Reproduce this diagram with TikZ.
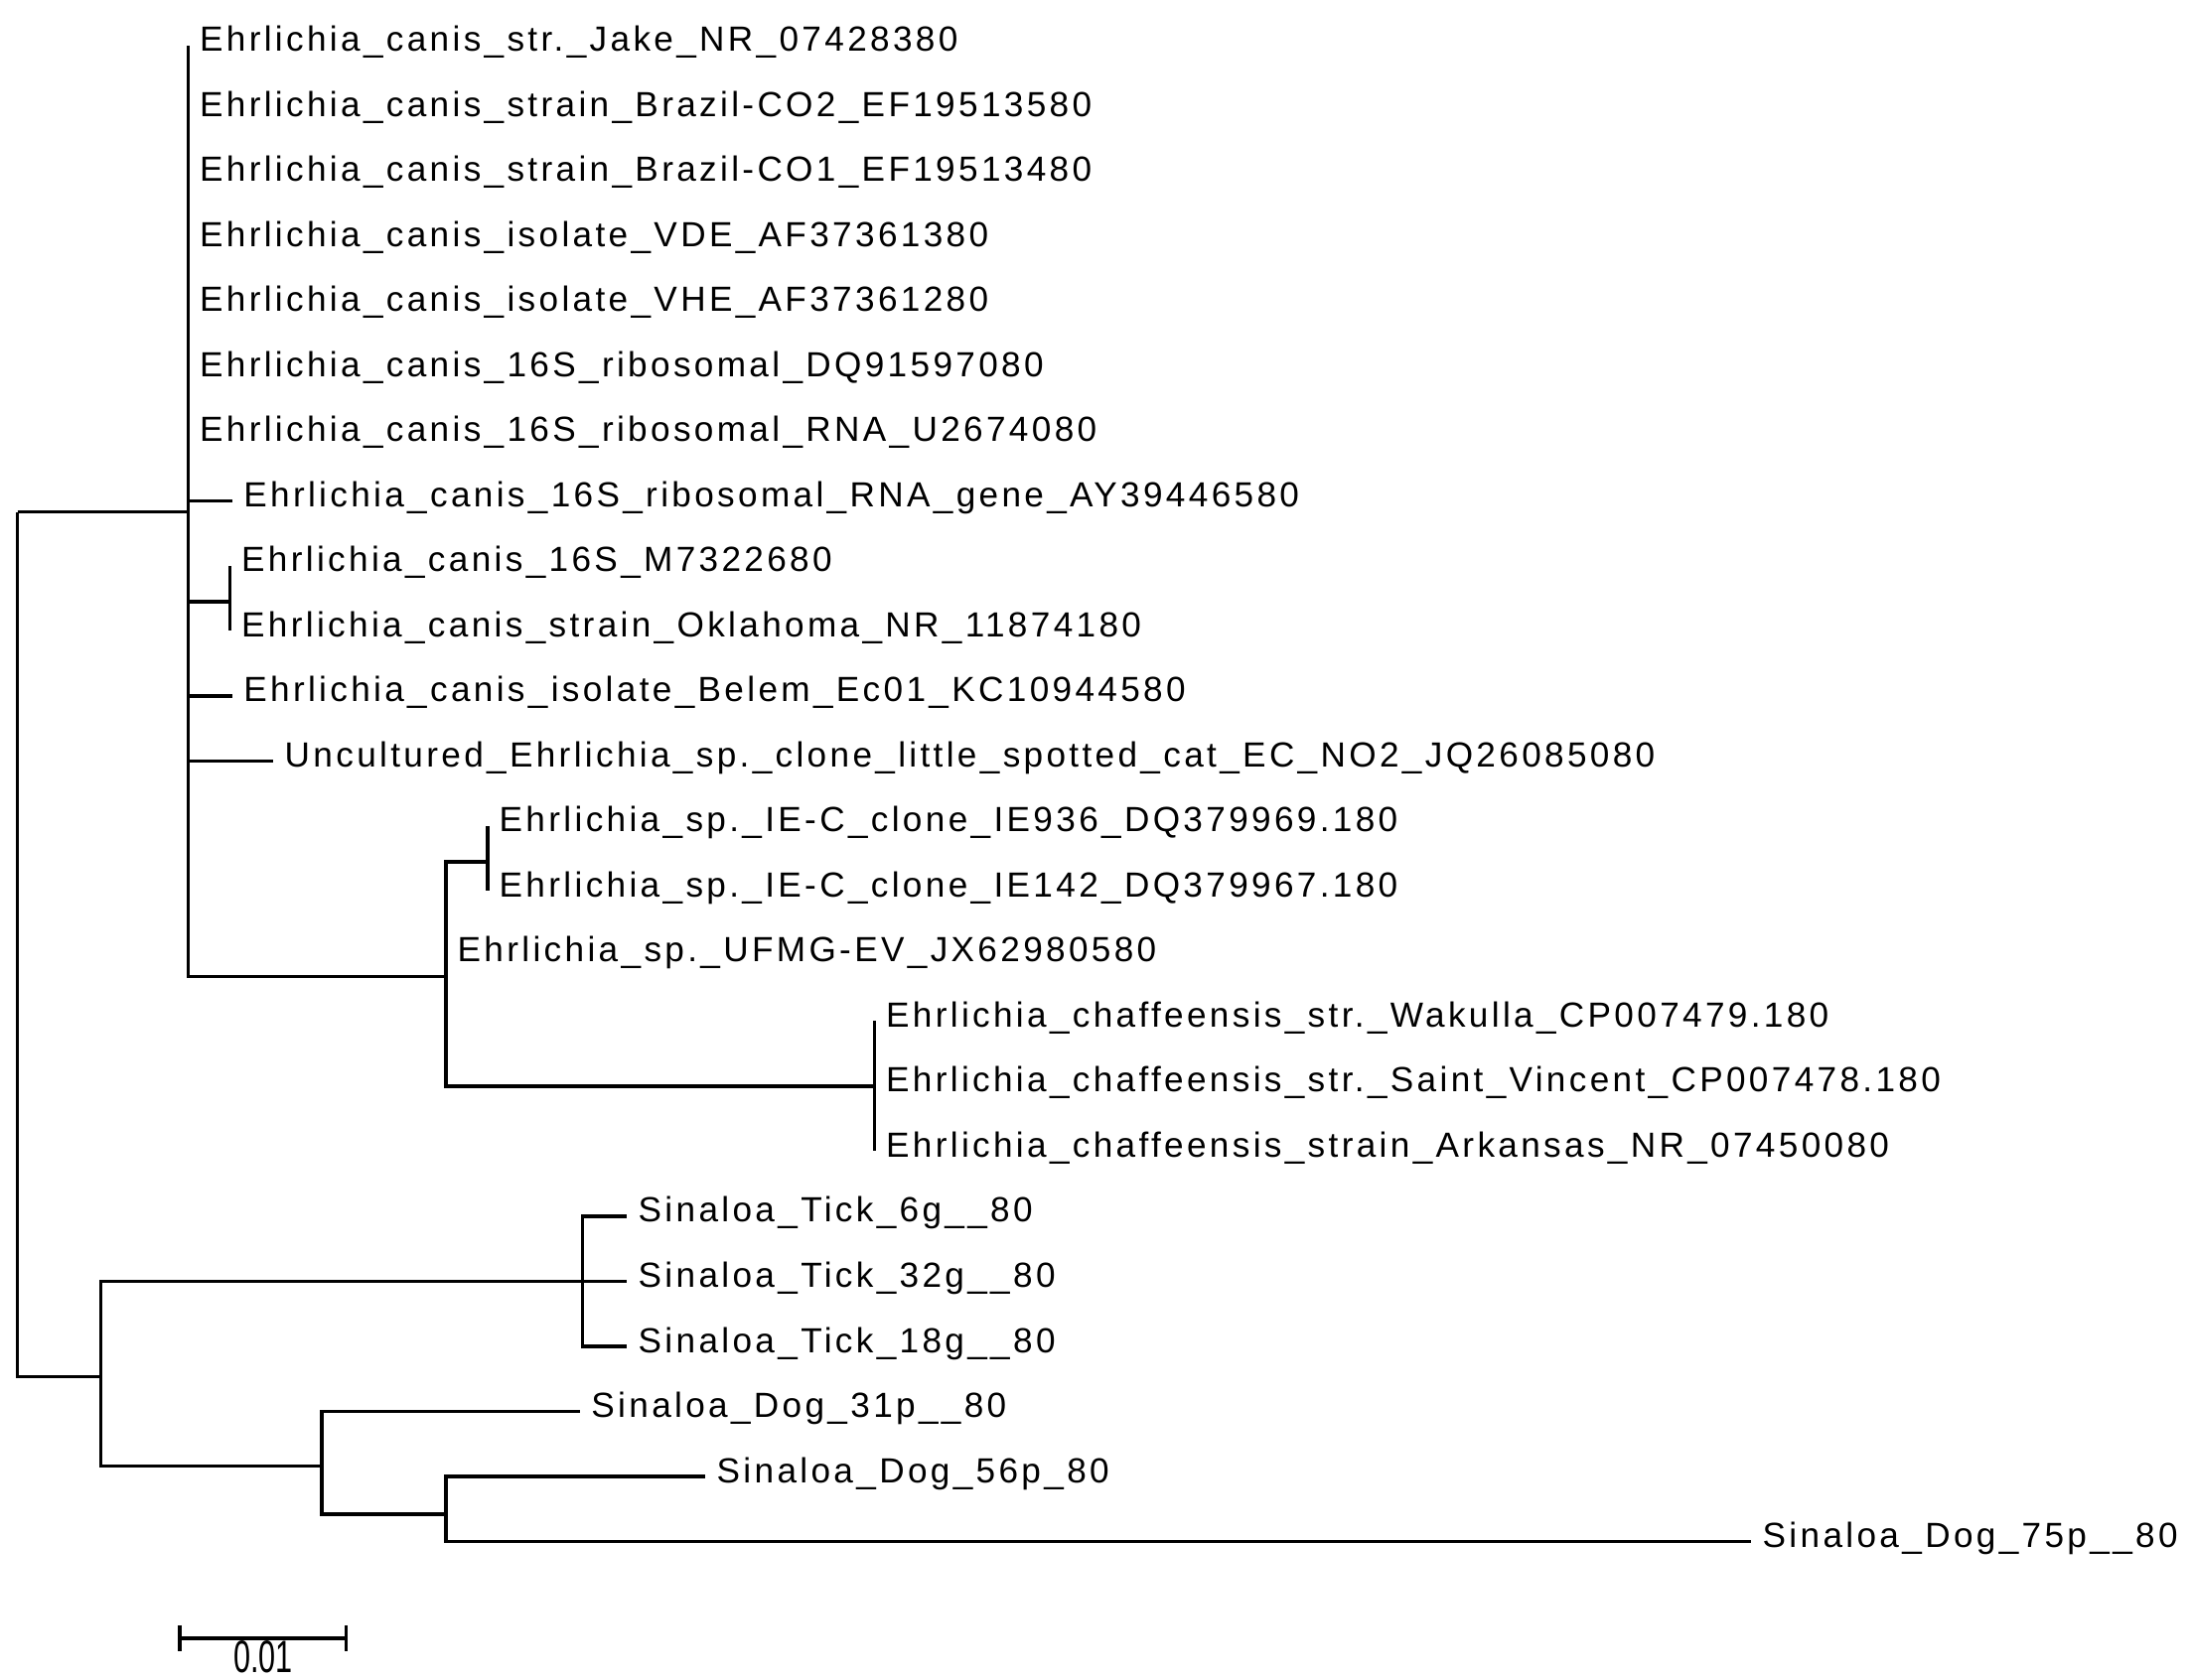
\documentclass[tikz,border=0pt]{standalone}
\usepackage{fontspec}
\newfontfamily\labfont{Liberation Sans}[LetterSpace=9.5]
\newfontfamily\sbfont{Liberation Sans}
\begin{document}
\begin{tikzpicture}[x=0.01cm,y=-0.01cm,
  br/.style={line width=0.9pt},
  lab/.style={anchor=base west, inner sep=0pt, xshift=0.11cm, yshift=-0.06cm,
    font=\labfont\fontsize{10}{12}\selectfont}]
\useasboundingbox (0,0) rectangle (2205,1692);
% internal nodes
\coordinate (R) at (17.5,515.6);
\coordinate (A) at (189.4,515.6);
\coordinate (B) at (101.7,1386.4);
\coordinate (C) at (449,983.3);
\coordinate (D) at (231.5,606);
\coordinate (E) at (491,868);
\coordinate (F) at (880.4,1094);
\coordinate (G) at (586.5,1290.5);
\coordinate (H) at (324,1476.7);
\coordinate (I) at (449,1525);
% leaf tips
\foreach \i in {1,...,7}{\coordinate (l\i) at (189.4,{46+65.5*(\i-1)});}
\coordinate (l8) at (233.6,504.5);
\coordinate (l9) at (231.5,570);
\coordinate (l10) at (231.5,635.5);
\coordinate (l11) at (233.6,701);
\coordinate (l12) at (275,766.5);
\coordinate (l13) at (491,832);
\coordinate (l14) at (491,897.5);
\coordinate (l15) at (449,963);
\coordinate (l16) at (880.4,1028.5);
\coordinate (l17) at (880.4,1094);
\coordinate (l18) at (880.4,1159.5);
\coordinate (l19) at (631,1225);
\coordinate (l20) at (631,1290.5);
\coordinate (l21) at (631,1356);
\coordinate (l22) at (583.7,1421.5);
\coordinate (l23) at (710,1487);
\coordinate (l24) at (1763,1552.5);
% branches
\draw[br] (R) |- (A);
\draw[br] (R) |- (B);
\foreach \c in {l1,l2,l3,l4,l5,l6,l7,l8,l11,l12,C,D}{\draw[br] (A) |- (\c);}
\foreach \c in {l9,l10}{\draw[br] (D) |- (\c);}
\foreach \c in {E,l15,F}{\draw[br] (C) |- (\c);}
\foreach \c in {l13,l14}{\draw[br] (E) |- (\c);}
\foreach \c in {l16,l17,l18}{\draw[br] (F) |- (\c);}
\foreach \c in {G,H}{\draw[br] (B) |- (\c);}
\foreach \c in {l19,l20,l21}{\draw[br] (G) |- (\c);}
\foreach \c in {l22,I}{\draw[br] (H) |- (\c);}
\foreach \c in {l23,l24}{\draw[br] (I) |- (\c);}
% labels
\node[lab] (t1) at (l1) {Ehrlichia\_canis\_str.\_Jake\_NR\_07428380};
\node[lab] (t2) at (l2) {Ehrlichia\_canis\_strain\_Brazil-CO2\_EF19513580};
\node[lab] (t3) at (l3) {Ehrlichia\_canis\_strain\_Brazil-CO1\_EF19513480};
\node[lab] (t4) at (l4) {Ehrlichia\_canis\_isolate\_VDE\_AF37361380};
\node[lab] (t5) at (l5) {Ehrlichia\_canis\_isolate\_VHE\_AF37361280};
\node[lab] (t6) at (l6) {Ehrlichia\_canis\_16S\_ribosomal\_DQ91597080};
\node[lab] (t7) at (l7) {Ehrlichia\_canis\_16S\_ribosomal\_RNA\_U2674080};
\node[lab] (t8) at (l8) {Ehrlichia\_canis\_16S\_ribosomal\_RNA\_gene\_AY39446580};
\node[lab] (t9) at (l9) {Ehrlichia\_canis\_16S\_M7322680};
\node[lab] (t10) at (l10) {Ehrlichia\_canis\_strain\_Oklahoma\_NR\_11874180};
\node[lab] (t11) at (l11) {Ehrlichia\_canis\_isolate\_Belem\_Ec01\_KC10944580};
\node[lab] (t12) at (l12) {Uncultured\_Ehrlichia\_sp.\_clone\_little\_spotted\_cat\_EC\_NO2\_JQ26085080};
\node[lab] (t13) at (l13) {Ehrlichia\_sp.\_IE-C\_clone\_IE936\_DQ379969.180};
\node[lab] (t14) at (l14) {Ehrlichia\_sp.\_IE-C\_clone\_IE142\_DQ379967.180};
\node[lab] (t15) at (l15) {Ehrlichia\_sp.\_UFMG-EV\_JX62980580};
\node[lab] (t16) at (l16) {Ehrlichia\_chaffeensis\_str.\_Wakulla\_CP007479.180};
\node[lab] (t17) at (l17) {Ehrlichia\_chaffeensis\_str.\_Saint\_Vincent\_CP007478.180};
\node[lab] (t18) at (l18) {Ehrlichia\_chaffeensis\_strain\_Arkansas\_NR\_07450080};
\node[lab] (t19) at (l19) {Sinaloa\_Tick\_6g\_\_80};
\node[lab] (t20) at (l20) {Sinaloa\_Tick\_32g\_\_80};
\node[lab] (t21) at (l21) {Sinaloa\_Tick\_18g\_\_80};
\node[lab] (t22) at (l22) {Sinaloa\_Dog\_31p\_\_80};
\node[lab] (t23) at (l23) {Sinaloa\_Dog\_56p\_80};
\node[lab] (t24) at (l24) {Sinaloa\_Dog\_75p\_\_80};
% scale bar
\coordinate (s1) at (181,1650);
\coordinate (s2) at (348.7,1650);
\draw[br] (s1) -- (s2);
\draw[br] ([yshift=0.13cm]s1) -- ([yshift=-0.13cm]s1);
\draw[br] ([yshift=0.13cm]s2) -- ([yshift=-0.13cm]s2);
\node[inner sep=0pt, font=\sbfont\fontsize{13}{15}\selectfont] (sl) at (265,1669) {\scalebox{0.67}[1]{0.01}};
\end{tikzpicture}
\end{document}
